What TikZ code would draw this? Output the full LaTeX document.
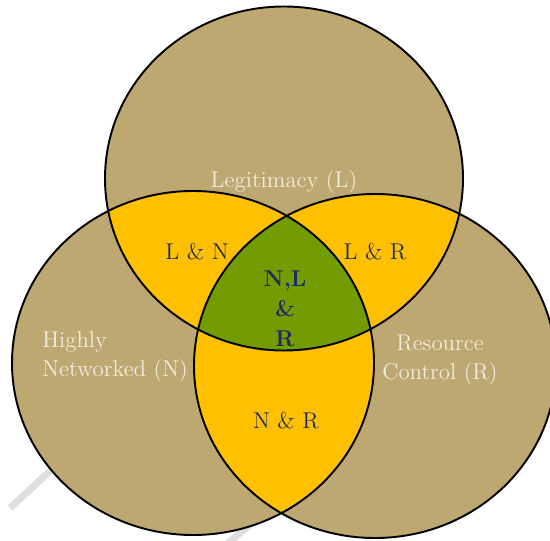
\documentclass[tikz,border=0pt]{standalone}
\usepackage{tikz}
\usetikzlibrary{positioning}
\definecolor{venntan}{RGB}{190,168,114}
\definecolor{venngold}{RGB}{255,192,0}
\definecolor{venngreen}{RGB}{114,156,0}
\definecolor{setlight}{RGB}{242,236,222}
\definecolor{setblue}{RGB}{30,42,98}

\begin{document}
\begin{tikzpicture}[x=0.02cm, y=-0.02cm,
    setname/.style={text=setlight, font=\fontsize{13}{17}\selectfont, align=center, inner sep=0pt},
    overlap/.style={text=setblue, font=\fontsize{13}{17}\selectfont, align=center, inner sep=0pt},
    watermark/.style={draw=black!13, line width=4pt}]
  \clip (0,0) rectangle (550,540);
  % the three sets (pixel coordinates, y downwards)
  \def\setL{(284,178.5) ellipse [x radius=179, y radius=172]}
  \def\setN{(193,363) ellipse [x radius=181, y radius=172]}
  \def\setR{(375,366) ellipse [x radius=181, y radius=172]}
  % faint watermark strokes behind everything
  \draw[watermark] (10,508) -- (62,460);
  \draw[watermark] (222,548) -- (282,498);
  \fill[venntan] \setL \setN \setR;
  % pairwise overlaps
  \begin{scope}
    \clip \setL;
    \fill[venngold] \setN;
    \fill[venngold] \setR;
  \end{scope}
  \begin{scope}
    \clip \setN;
    \fill[venngold] \setR;
  \end{scope}
  % all three
  \begin{scope}
    \clip \setL; \clip \setN;
    \fill[venngreen] \setR;
  \end{scope}
  \draw[line width=1.1pt] \setL \setN \setR;
  \node[setname] (legit) at (284,182) {Legitimacy (L)};
  \node[setname, align=left, anchor=west] (netw) at (42,357) {Highly\\Networked (N)};
  \node[setname] (resctl) at (440,360) {Resource\\Control (R)};
  \node[overlap] (ln) at (197,252) {L \& N};
  \node[overlap] (lr) at (375,252) {L \& R};
  \node[overlap] (nr) at (286,421) {N \& R};
  \node[overlap, font=\fontsize{13}{17}\selectfont\bfseries] (nlr) at (285,309) {N,L\\\&\\R};
\end{tikzpicture}
\end{document}
